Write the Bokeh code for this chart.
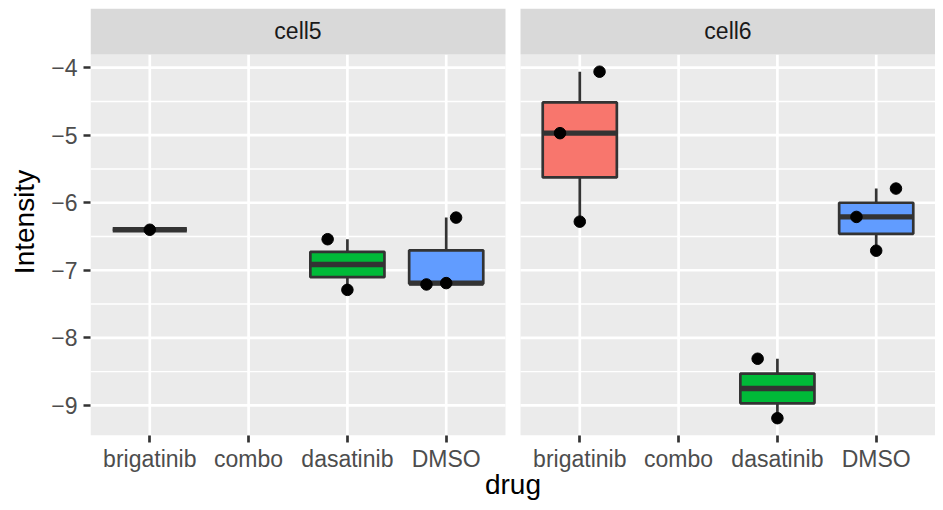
import numpy as np
from bokeh.plotting import figure
from bokeh.models import ColumnDataSource, FixedTicker, Range1d, CustomJSTickFormatter
from bokeh.core.properties import value
from bokeh.embed import file_html
from bokeh.resources import INLINE

# ---------------- data ----------------
drugs = ["brigatinib", "combo", "dasatinib", "DMSO"]
cells = ["cell5", "cell6"]
drug_colors = ["#F8766D", None, "#00BA38", "#619CFF"]

obs_cell = ["cell5", "cell5", "cell5", "cell5", "cell5", "cell5",
            "cell6", "cell6", "cell6", "cell6", "cell6", "cell6", "cell6", "cell6"]
obs_drug = ["brigatinib", "dasatinib", "dasatinib", "DMSO", "DMSO", "DMSO",
            "brigatinib", "brigatinib", "brigatinib", "dasatinib", "dasatinib",
            "DMSO", "DMSO", "DMSO"]
obs_intensity = [-6.40, -6.54, -7.29, -7.21, -7.19, -6.22,
                 -4.06, -4.97, -6.28, -8.31, -9.19, -5.79, -6.21, -6.71]
obs_jitter = [0.0, -0.2, 0.0, -0.2, 0.0, 0.1,
              0.2, -0.2, 0.0, -0.2, 0.0, 0.2, -0.2, 0.0]
y_breaks = [-9, -8, -7, -6, -5, -4]

# ---------------- layout ----------------
FONT = "Liberation Sans"
FIG_W, FIG_H = 935, 502
LEFT, BOTTOM, TOP = 90, 66, 8
FRAME_W, FRAME_H = FIG_W - LEFT, FIG_H - BOTTOM - TOP
GAP_PX = 15
STRIP_PX = 46
PANEL_W = (FRAME_W - GAP_PX) / 2
PANEL_H = FRAME_H - STRIP_PX

n = len(drugs)
span = n - 1 + 2 * 0.6
ppu = PANEL_W / span
gap_u = GAP_PX / ppu
offsets = [k * (span + gap_u) for k in range(len(cells))]

vals = np.array(obs_intensity)
rng = vals.max() - vals.min()
ylo, yhi = vals.min() - 0.05 * rng, vals.max() + 0.05 * rng
upp = (yhi - ylo) / PANEL_H
ytop = yhi + STRIP_PX * upp


def xpos(cell, drug, jit=0.0):
    return offsets[cells.index(cell)] + 0.6 + drugs.index(drug) + jit


p = figure(width=FIG_W, height=FIG_H, output_backend="svg", toolbar_location=None,
           x_range=Range1d(0, offsets[-1] + span), y_range=Range1d(ylo, ytop),
           min_border_left=LEFT, min_border_bottom=BOTTOM, min_border_top=TOP,
           min_border_right=0)
p.outline_line_color = None
p.background_fill_color = "white"
p.border_fill_color = "white"
p.xgrid.visible = False
p.ygrid.visible = False

# panels
p.quad(left=offsets, right=[o + span for o in offsets], bottom=ylo, top=yhi,
       fill_color="#EBEBEB", line_color=None)

# grid lines
minor = [b + 0.5 for b in y_breaks[:-1]]
for o in offsets:
    p.segment(x0=o, x1=o + span, y0=minor, y1=minor, line_color="white", line_width=1.4)
    p.segment(x0=o, x1=o + span, y0=y_breaks, y1=y_breaks, line_color="white", line_width=2.7)
    xs = [o + 0.6 + i for i in range(n)]
    p.segment(x0=xs, x1=xs, y0=ylo, y1=yhi, line_color="white", line_width=2.7)

# strips
p.quad(left=offsets, right=[o + span for o in offsets], bottom=yhi, top=ytop,
       fill_color="#D9D9D9", line_color=None)
p.text(x=[o + span / 2 for o in offsets], y=[(yhi + ytop) / 2] * len(cells), text=cells,
       text_align="center", text_baseline="middle", text_color="#1A1A1A",
       text_font=value(FONT), text_font_size="23px")

# box stats
bx, bl, br, q1s, q3s, meds, lows, highs, fills = [], [], [], [], [], [], [], [], []
for c in cells:
    for d, col in zip(drugs, drug_colors):
        v = np.array([iv for ic, idr, iv in zip(obs_cell, obs_drug, obs_intensity)
                      if ic == c and idr == d])
        if len(v) == 0:
            continue
        q1, med, q3 = np.percentile(v, [25, 50, 75])
        iqr = q3 - q1
        lo = v[v >= q1 - 1.5 * iqr].min()
        hi = v[v <= q3 + 1.5 * iqr].max()
        cx = xpos(c, d)
        bx.append(cx); bl.append(cx - 0.375); br.append(cx + 0.375)
        q1s.append(q1); q3s.append(q3); meds.append(med)
        lows.append(lo); highs.append(hi); fills.append(col)

bs = ColumnDataSource(dict(x=bx, l=bl, r=br, q1=q1s, q3=q3s, med=meds,
                           lo=lows, hi=highs, fill=fills))
p.segment(x0="x", x1="x", y0="q3", y1="hi", source=bs, line_color="#333333", line_width=2.7)
p.segment(x0="x", x1="x", y0="lo", y1="q1", source=bs, line_color="#333333", line_width=2.7)
p.quad(left="l", right="r", bottom="q1", top="q3", source=bs, fill_color="fill",
       line_color="#333333", line_width=2.7)
p.segment(x0="l", x1="r", y0="med", y1="med", source=bs, line_color="#333333", line_width=5.4)

# points
ps = ColumnDataSource(dict(x=[xpos(c, d, j) for c, d, j in zip(obs_cell, obs_drug, obs_jitter)],
                           y=obs_intensity))
p.scatter(x="x", y="y", source=ps, size=11.5, color="black")

# axes
p.yaxis.ticker = FixedTicker(ticks=y_breaks, minor_ticks=[])
p.yaxis.formatter = CustomJSTickFormatter(code="return (tick < 0 ? '\u2212' : '') + Math.abs(tick);")
p.xaxis.ticker = FixedTicker(ticks=[o + 0.6 + i for o in offsets for i in range(n)], minor_ticks=[])
p.xaxis.formatter = CustomJSTickFormatter(args=dict(labels=drugs),
                                          code="return labels[index % labels.length];")
for ax in (p.xaxis, p.yaxis):
    ax.axis_line_color = None
    ax.major_tick_line_color = "#333333"
    ax.major_tick_line_width = 2.7
    ax.major_tick_in = 0
    ax.major_tick_out = 7
    ax.minor_tick_line_color = None
    ax.major_label_text_color = "#4D4D4D"
    ax.major_label_text_font = FONT
    ax.major_label_text_font_size = "23px"
    ax.axis_label_text_color = "black"
    ax.axis_label_text_font = FONT
    ax.axis_label_text_font_size = "28px"
    ax.axis_label_text_font_style = "normal"
p.xaxis.axis_label = "drug"
p.yaxis.axis_label = "Intensity"
p.xaxis.major_label_standoff = 3
p.yaxis.major_label_standoff = 6
p.xaxis.axis_label_standoff = -6
p.yaxis.axis_label_standoff = 8

open("out.html", "w").write(file_html(p, INLINE))
